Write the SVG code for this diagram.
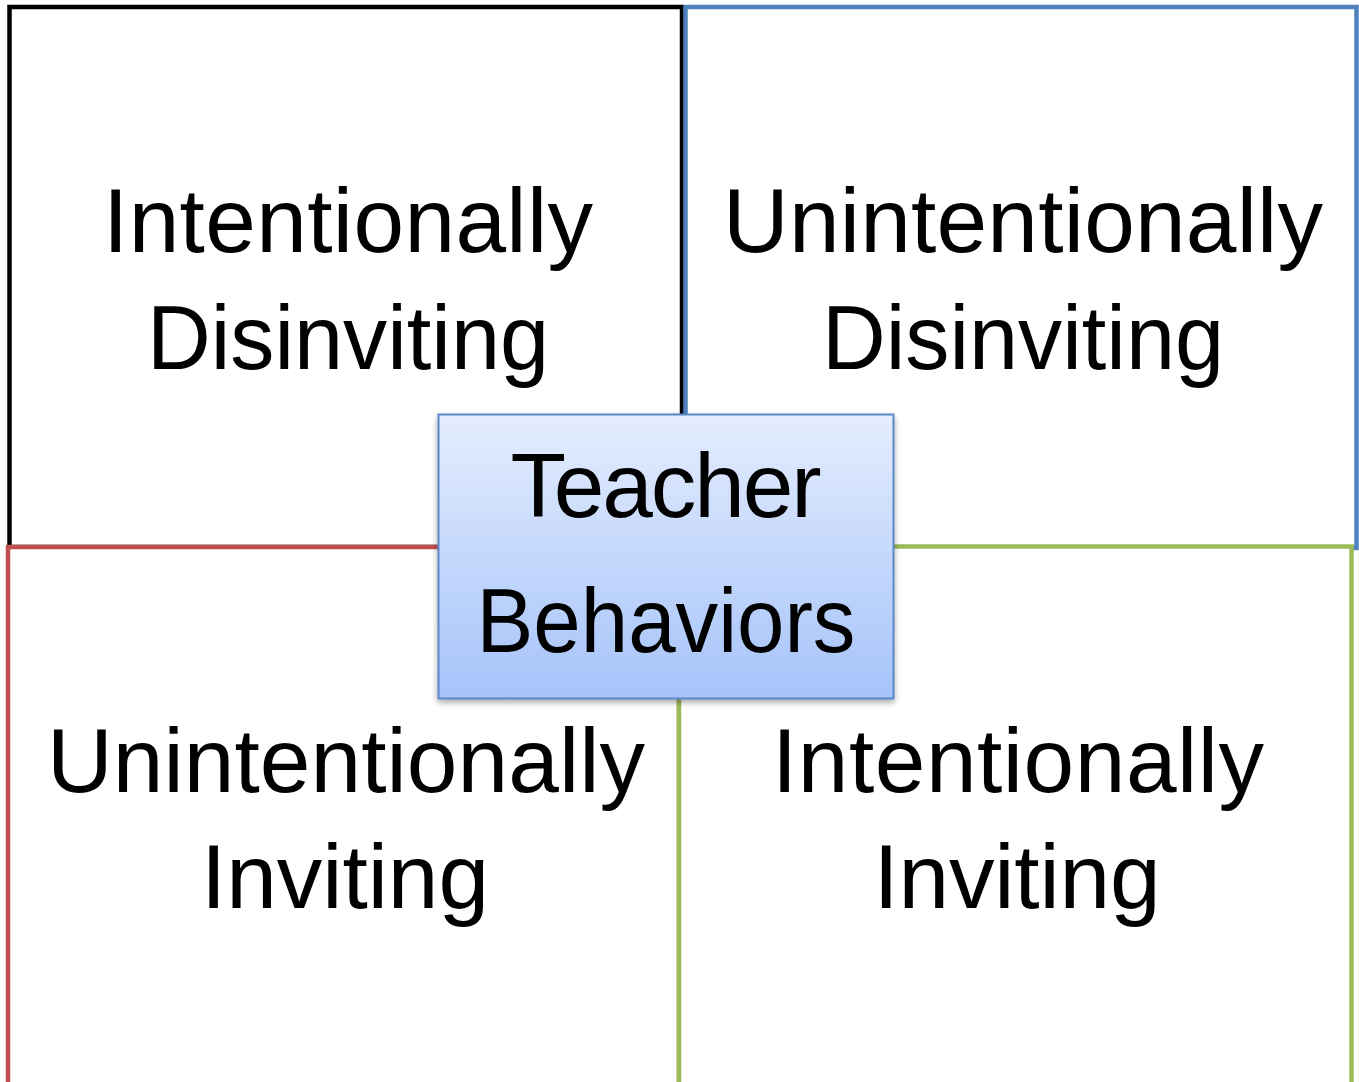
<svg xmlns="http://www.w3.org/2000/svg" width="1359" height="1082" viewBox="0 0 1359 1082">
<style>
.q{fill:#ffffff;stroke-width:4.5}
.t{font-family:"Liberation Sans",Arial,sans-serif;font-size:91px;fill:#000;text-anchor:middle}
</style>
<defs>
<linearGradient id="g" x1="0" y1="0" x2="0" y2="1">
<stop offset="0" stop-color="#e4edfd"/>
<stop offset="1" stop-color="#a5c3fa"/>
</linearGradient>
<filter id="sh" x="-10%" y="-10%" width="120%" height="130%">
<feGaussianBlur in="SourceAlpha" stdDeviation="3"/>
<feOffset dx="0" dy="3"/>
<feComponentTransfer><feFuncA type="linear" slope="0.35"/></feComponentTransfer>
<feMerge><feMergeNode/><feMergeNode in="SourceGraphic"/></feMerge>
</filter>
</defs>
<g id="connectors"></g>
<g id="q1">
<rect class="q" x="9.5" y="7" width="672.5" height="540" stroke="#000000"/>
<text class="t" x="348" y="252" textLength="490">Intentionally</text>
<text class="t" x="348" y="369" textLength="402" lengthAdjust="spacingAndGlyphs">Disinviting</text>
</g>
<g id="q2">
<rect class="q" x="685.5" y="7" width="671" height="541" stroke="#4f81bd"/>
<text class="t" x="1023" y="252" textLength="600">Unintentionally</text>
<text class="t" x="1023" y="369" textLength="402" lengthAdjust="spacingAndGlyphs">Disinviting</text>
</g>
<g id="q3">
<rect class="q" x="8" y="547" width="671" height="560" stroke="#c0504d"/>
<text class="t" x="346" y="792" textLength="598">Unintentionally</text>
<text class="t" x="345" y="908" textLength="288">Inviting</text>
</g>
<g id="q4">
<rect class="q" x="679" y="546.5" width="672.5" height="560" stroke="#9bbb59"/>
<text class="t" x="1018" y="792" textLength="492">Intentionally</text>
<text class="t" x="1017" y="908" textLength="287">Inviting</text>
</g>
<g id="center">
<rect x="438.5" y="414.5" width="455" height="284" fill="url(#g)" stroke="#5a87c6" stroke-width="2" filter="url(#sh)"/>
<text class="t" x="666" y="517" textLength="311">Teacher</text>
<text class="t" x="666" y="652" textLength="379" lengthAdjust="spacingAndGlyphs">Behaviors</text>
</g>
</svg>
